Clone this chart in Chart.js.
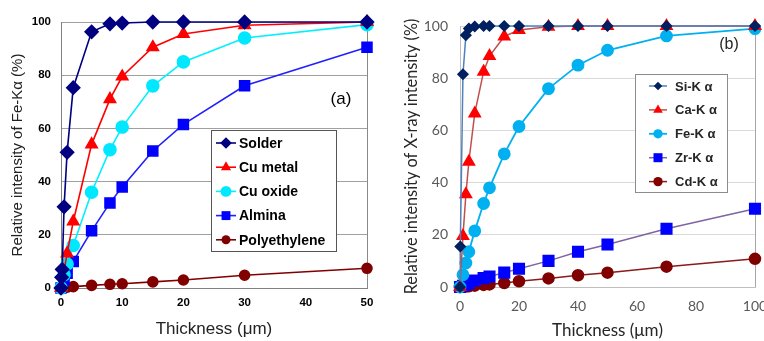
<!DOCTYPE html>
<html>
<head>
<meta charset="utf-8">
<script src="https://cdn.jsdelivr.net/npm/chart.js@4/dist/chart.umd.min.js"></script>
<style>
  body { margin: 0; background: #fff; width: 764px; height: 341px; overflow: hidden; position: relative; }
  #chartA { position: absolute; left: 0; top: 0; }
  #chartB { position: absolute; left: 380px; top: 0; }
</style>
</head>
<body>
<canvas id="chartA" width="380" height="341"></canvas>
<canvas id="chartB" width="384" height="341"></canvas>
<script>
// ---- panel (a): Fe-Ka intensity vs coating thickness ----
const solderX = [0, 0.1, 0.2, 0.5, 1, 2, 5, 8, 10, 15, 20, 30, 50];
const solderY = [0, 4, 7, 30.5, 51, 75.3, 96.3, 99.3, 99.6, 100, 100, 100, 100];
const cuMetalX = [0, 1, 2, 5, 8, 10, 15, 20, 30, 50];
const cuMetalY = [0, 13, 25, 54, 71, 79.5, 90.5, 95.5, 98.8, 100];
const cuOxideX = [0, 0.5, 1, 2, 5, 8, 10, 15, 20, 30, 50];
const cuOxideY = [0, 5, 9, 16, 36, 52, 60.5, 76, 85, 94, 99];
const alminaX = [0, 0.5, 1, 2, 5, 8, 10, 15, 20, 30, 50];
const alminaY = [0, 3, 5.5, 10, 21.5, 32, 38, 51.5, 61.5, 76, 90.5];
const polyX = [0, 0.5, 1, 2, 5, 8, 10, 15, 20, 30, 50];
const polyY = [0, 0.2, 0.3, 0.5, 1, 1.4, 1.6, 2.3, 3, 4.8, 7.4];
const ticksA_X = [0, 10, 20, 30, 40, 50];

// ---- panel (b): X-ray intensity vs thickness ----
const siX = [0, 0.1, 1, 2, 3, 5, 8, 10, 15, 20, 30, 40, 50, 70, 100];
const siY = [0, 15.5, 81.5, 96.5, 99, 99.8, 100, 100, 100, 100, 100, 100, 100, 100, 100];
const thickB = [0, 1, 2, 3, 5, 8, 10, 15, 20, 30, 40, 50, 70, 100];
const caY = [0, 19.5, 35.5, 48, 66.5, 82.5, 88.5, 96, 98.5, 99.7, 100, 100, 100, 100];
const feY = [0, 4.7, 9.2, 13.5, 21.5, 32, 38, 51, 61.5, 76, 85, 90.7, 96.2, 99];
const zrY = [0, 0.5, 1, 1.5, 2.5, 3.4, 4, 5.5, 7, 10, 13.5, 16.3, 22.3, 30];
const cdY = [0, 0.1, 0.2, 0.3, 0.5, 0.8, 1, 1.5, 2.2, 3.3, 4.5, 5.5, 7.8, 10.8];

function pts(xs, ys) {
  return xs.map((x, i) => ({ x: x, y: ys[i] }));
}

function series(label, xs, ys, line, fill, style, r, w) {
  return {
    label: label,
    data: pts(xs, ys),
    showLine: true,
    borderColor: line,
    backgroundColor: fill,
    pointBackgroundColor: fill,
    pointBorderColor: fill,
    pointStyle: style,
    pointRadius: r,
    borderWidth: w,
    clip: false
  };
}

function drawMarker(ctx, style, x, y, r) {
  ctx.beginPath();
  if (style === 'rectRot') {
    ctx.moveTo(x, y - r); ctx.lineTo(x + r, y); ctx.lineTo(x, y + r); ctx.lineTo(x - r, y);
  } else if (style === 'triangle') {
    for (let k = 0; k < 3; k++) {
      const a = k * 2 * Math.PI / 3;
      const px = x + Math.sin(a) * r, py = y - Math.cos(a) * r;
      if (k === 0) ctx.moveTo(px, py); else ctx.lineTo(px, py);
    }
  } else if (style === 'rect') {
    const s = r * Math.SQRT1_2;
    ctx.rect(x - s, y - s, 2 * s, 2 * s);
  } else {
    ctx.arc(x, y, r, 0, Math.PI * 2);
  }
  ctx.closePath();
  ctx.fill();
}

// legend box + panel tag drawn inside the plot
const boxLegend = {
  id: 'boxLegend',
  afterDatasetsDraw(chart, args, opts) {
    const ctx = chart.ctx;
    const b = opts.box;
    ctx.save();
    ctx.fillStyle = '#fff';
    ctx.fillRect(b[0], b[1], b[2] - b[0], b[3] - b[1]);
    ctx.strokeStyle = opts.borderColor;
    ctx.lineWidth = 1;
    ctx.strokeRect(b[0] + 0.5, b[1] + 0.5, b[2] - b[0], b[3] - b[1]);
    ctx.font = opts.font;
    ctx.textBaseline = 'middle';
    chart.data.datasets.forEach((ds, i) => {
      const y = opts.top + i * opts.step;
      ctx.strokeStyle = ds.borderColor;
      ctx.lineWidth = ds.borderWidth;
      ctx.beginPath();
      ctx.moveTo(opts.symX - opts.symHalf, y);
      ctx.lineTo(opts.symX + opts.symHalf, y);
      ctx.stroke();
      ctx.fillStyle = ds.pointBackgroundColor;
      drawMarker(ctx, ds.pointStyle, opts.symX, y, ds.pointRadius * opts.symScale);
      ctx.fillStyle = opts.color;
      ctx.fillText(ds.label, opts.textX, y + 1);
    });
    ctx.font = opts.tagFont;
    ctx.textAlign = 'center';
    ctx.fillStyle = opts.color;
    ctx.fillText(opts.tag, opts.tagX, opts.tagY);
    ctx.restore();
  }
};

function lastOnly(color) {
  return c => (c.index === c.chart.scales.x.ticks.length - 1 ? color : 'rgba(0,0,0,0)');
}

// ---- chart (a) ----
new Chart(document.getElementById('chartA').getContext('2d'), {
  type: 'scatter',
  data: {
    datasets: [
      series('Solder', solderX, solderY, '#000080', '#000080', 'rectRot', 6.5, 1.6),
      series('Cu metal', cuMetalX, cuMetalY, '#ff0000', '#ff0000', 'triangle', 6.5, 1.6),
      series('Cu oxide', cuOxideX, cuOxideY, '#00f0ff', '#00e8ff', 'circle', 6, 1.6),
      series('Almina', alminaX, alminaY, '#2020ff', '#0000ff', 'rect', 7, 1.6),
      series('Polyethylene', polyX, polyY, '#800000', '#800000', 'circle', 5, 1.6)
    ]
  },
  options: {
    responsive: false,
    animation: false,
    layout: { padding: { left: 0, right: 13, top: 22, bottom: 0 } },
    plugins: {
      legend: { display: false },
      tooltip: { enabled: false },
      boxLegend: {
        box: [211, 130, 336, 251],
        borderColor: '#555',
        top: 143, step: 24.2,
        symX: 226, symHalf: 10, symScale: 0.9,
        textX: 239,
        font: 'bold 14px "Liberation Sans", Arial, sans-serif',
        color: '#000',
        tag: '(a)', tagX: 341, tagY: 99,
        tagFont: '17px "Liberation Sans", Arial, sans-serif'
      }
    },
    scales: {
      x: {
        type: 'linear',
        min: 0, max: 50,
        afterBuildTicks: s => { s.ticks = ticksA_X.map(v => ({ value: v })); },
        afterFit: s => { s.height = 53; s.paddingLeft = 0; s.paddingRight = 0; },
        grid: { color: lastOnly('#8a8a8a'), drawTicks: false },
        border: { display: true, color: '#808080' },
        ticks: { padding: 8, color: '#000', font: { family: '"Liberation Sans", Arial', size: 11.5, weight: 'bold' } },
        title: {
          display: true, text: 'Thickness (\u03bcm)', color: '#222',
          font: { family: '"Liberation Sans", Arial', size: 17 },
          padding: { top: 0, bottom: 1 }
        }
      },
      y: {
        min: 0, max: 100,
        ticks: { stepSize: 20, padding: 10, color: '#000', font: { family: '"Liberation Sans", Arial', size: 11.5, weight: 'bold' } },
        afterFit: s => { s.width = 61; s.paddingTop = 0; s.paddingBottom = 0; },
        grid: { color: '#a0a0a0', drawTicks: false },
        border: { display: true, color: '#808080' },
        title: {
          display: true, text: 'Relative intensity of Fe-K\u03b1 (%)', color: '#222',
          font: { family: '"Liberation Sans", Arial', size: 15 },
          padding: { top: 9, bottom: 0 }
        }
      }
    }
  },
  plugins: [boxLegend]
});

// ---- chart (b) ----
new Chart(document.getElementById('chartB').getContext('2d'), {
  type: 'scatter',
  data: {
    datasets: [
      series('Si-K \u03b1', siX, siY, '#4f81bd', '#002060', 'rectRot', 5, 1.5),
      series('Ca-K \u03b1', thickB, caY, '#c0504d', '#ff0000', 'triangle', 6.5, 1.5),
      series('Fe-K \u03b1', thickB, feY, '#00b0f0', '#00b0f0', 'circle', 5.5, 1.8),
      series('Zr-K \u03b1', thickB, zrY, '#8064a2', '#0000ff', 'rect', 7.5, 1.5),
      series('Cd-K \u03b1', thickB, cdY, '#8b1a1a', '#800000', 'circle', 5.5, 1.5)
    ]
  },
  options: {
    responsive: false,
    animation: false,
    layout: { padding: { left: 0, right: 9, top: 26, bottom: 0 } },
    plugins: {
      legend: { display: false },
      tooltip: { enabled: false },
      boxLegend: {
        box: [255, 74, 347, 192],
        borderColor: '#8c8c8c',
        top: 86, step: 23.9,
        symX: 278, symHalf: 9, symScale: 0.85,
        textX: 295,
        font: 'bold 13px "Liberation Sans", Arial, sans-serif',
        color: '#262626',
        tag: '(b)', tagX: 349, tagY: 45,
        tagFont: '16px "Liberation Sans", Arial, sans-serif'
      }
    },
    scales: {
      x: {
        type: 'linear',
        min: 0, max: 100,
        ticks: { stepSize: 20, padding: 11, color: '#595959', font: { family: 'Lato, "Liberation Sans"', size: 14 } },
        afterFit: s => { s.height = 54; s.paddingLeft = 0; s.paddingRight = 0; },
        grid: { color: lastOnly('#a6a6a6'), drawTicks: false },
        border: { display: true, color: '#bfbfbf' },
        title: {
          display: true, text: 'Thickness (\u03bcm)', color: '#262626',
          font: { family: 'Lato, "Liberation Sans"', size: 17 },
          padding: { top: 0, bottom: 0 }
        }
      },
      y: {
        min: 0, max: 100,
        ticks: { stepSize: 20, padding: 12, color: '#595959', font: { family: 'Lato, "Liberation Sans"', size: 14 } },
        afterFit: s => { s.width = 80; s.paddingTop = 0; s.paddingBottom = 0; },
        grid: { color: '#d9d9d9', drawTicks: false },
        border: { display: true, color: '#bfbfbf' },
        title: {
          display: true, text: 'Relative intensity of X-ray intensity (%)', color: '#262626',
          font: { family: 'Lato, "Liberation Sans"', size: 16.3 },
          padding: { top: 22, bottom: 0 }
        }
      }
    }
  },
  plugins: [boxLegend]
});
</script>
</body>
</html>
